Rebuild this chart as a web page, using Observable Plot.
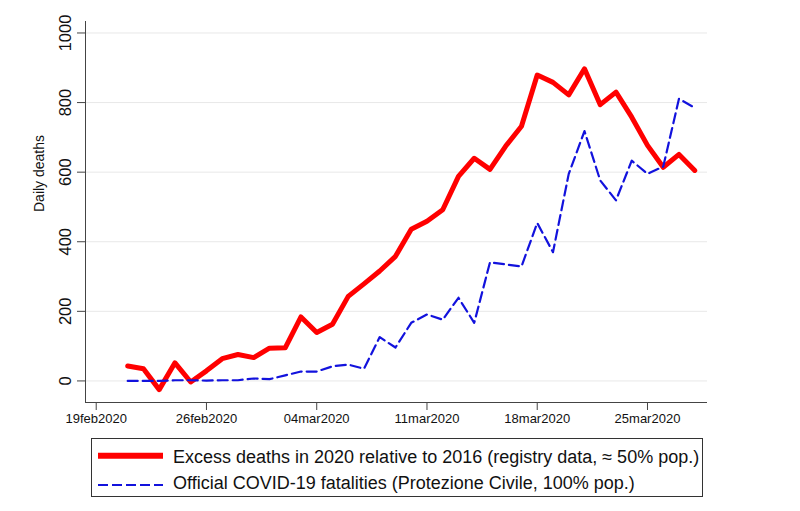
<!DOCTYPE html>
<html>
<head>
<meta charset="utf-8">
<script src="https://cdn.jsdelivr.net/npm/d3@7"></script>
<script src="https://cdn.jsdelivr.net/npm/@observablehq/plot@0.6"></script>
<style>
  html, body { margin: 0; padding: 0; background: #fff; }
  #wrap { position: relative; width: 800px; height: 511px; font-family: "Liberation Sans", Arial, sans-serif; }
  #chart { position: absolute; left: 0; top: 0; }
  #legend { position: absolute; left: 91px; top: 438px; }
</style>
</head>
<body>
<div id="wrap">
  <div id="chart"></div>
  <svg id="legend" width="614" height="61"></svg>
</div>
<script>
// ---- data ----
const dates = [
  "2020-02-21","2020-02-22","2020-02-23","2020-02-24","2020-02-25","2020-02-26","2020-02-27","2020-02-28","2020-02-29",
  "2020-03-01","2020-03-02","2020-03-03","2020-03-04","2020-03-05","2020-03-06","2020-03-07","2020-03-08","2020-03-09",
  "2020-03-10","2020-03-11","2020-03-12","2020-03-13","2020-03-14","2020-03-15","2020-03-16","2020-03-17","2020-03-18",
  "2020-03-19","2020-03-20","2020-03-21","2020-03-22","2020-03-23","2020-03-24","2020-03-25","2020-03-26","2020-03-27",
  "2020-03-28"
];
const excess = [43,35,-25,52,-3,29,64,76,67,94,95,184,139,163,243,279,316,358,436,459,492,588,640,608,675,732,879,858,822,897,794,830,758,677,614,651,605];
const official = [0,0,0,2,2,1,2,2,7,5,16,27,27,42,47,35,126,96,167,191,176,239,167,341,335,329,454,370,595,718,576,519,633,595,616,811,785];

const tickDates = ["2020-02-19","2020-02-26","2020-03-04","2020-03-11","2020-03-18","2020-03-25"];
const tickLabels = ["19feb2020","26feb2020","04mar2020","11mar2020","18mar2020","25mar2020"];
const yTicks = [0,200,400,600,800,1000];

const seriesLabels = [
  "Excess deaths in 2020 relative to 2016 (registry data, \u2248 50% pop.)",
  "Official COVID-19 fatalities (Protezione Civile, 100% pop.)"
];
const yTitle = "Daily deaths";

// ---- build ----
const day = 864e5;
const base = Date.UTC(2020, 1, 19);
const xMin = new Date(base - 0.68 * day);
const xMax = new Date(base + 38.81 * day);
const yMin = -62, yMax = 1033;

const data = dates.map((d, i) => ({date: new Date(d), excess: excess[i], official: official[i]}));
const tickDateObjs = tickDates.map(d => new Date(d));

const chart = Plot.plot({
  width: 800,
  height: 430,
  marginLeft: 85,
  marginRight: 93,
  marginTop: 21,
  marginBottom: 28,
  style: {fontFamily: "'Liberation Sans', Arial, sans-serif", background: "white", color: "#111"},
  x: {type: "utc", domain: [xMin, xMax]},
  y: {domain: [yMin, yMax]},
  marks: [
    Plot.gridY(yTicks, {stroke: "#e8e8e8", strokeOpacity: 1, strokeWidth: 1}),
    Plot.ruleY([yMin], {stroke: "#444", strokeWidth: 1}),
    Plot.ruleX([xMin], {stroke: "#444", strokeWidth: 1}),
    Plot.axisY(yTicks, {tickSize: 8, tickPadding: 7, fontSize: 16.5, tickRotate: -90, stroke: "#444", label: null,
      tickFormat: d => String(d)}),
    Plot.axisX(tickDateObjs, {
      tickSize: 8, tickPadding: 3.5, fontSize: 13, stroke: "#444", label: null,
      tickFormat: d => tickLabels[tickDateObjs.findIndex(t => +t === +d)]
    }),
    Plot.lineY(data, {x: "date", y: "excess", stroke: "#ff0000", strokeWidth: 5}),
    Plot.lineY(data, {x: "date", y: "official", stroke: "#1212dd", strokeWidth: 2.2, strokeDasharray: "10,5"}),
    Plot.text([yTitle], {frameAnchor: "left", dx: -46, rotate: -90, fontSize: 14, fill: "#111"})
  ]
});
document.getElementById("chart").appendChild(chart);

// ---- legend ----
const lg = d3.select("#legend");
lg.append("rect").attr("x", 0.5).attr("y", 0.5).attr("width", 611).attr("height", 58)
  .attr("fill", "white").attr("stroke", "#333").attr("stroke-width", 1);
lg.append("line").attr("x1", 7).attr("x2", 72).attr("y1", 17.7).attr("y2", 17.7)
  .attr("stroke", "#ff0000").attr("stroke-width", 6);
lg.append("line").attr("x1", 7).attr("x2", 72).attr("y1", 47).attr("y2", 47)
  .attr("stroke", "#1212dd").attr("stroke-width", 2.2).attr("stroke-dasharray", "10,4");
lg.append("text").attr("x", 82).attr("y", 24.5).attr("font-size", 18)
  .attr("font-family", "'Liberation Sans', Arial, sans-serif").attr("fill", "#111").text(seriesLabels[0]);
lg.append("text").attr("x", 82).attr("y", 50.5).attr("font-size", 18)
  .attr("font-family", "'Liberation Sans', Arial, sans-serif").attr("fill", "#111").text(seriesLabels[1]);
</script>
</body>
</html>
